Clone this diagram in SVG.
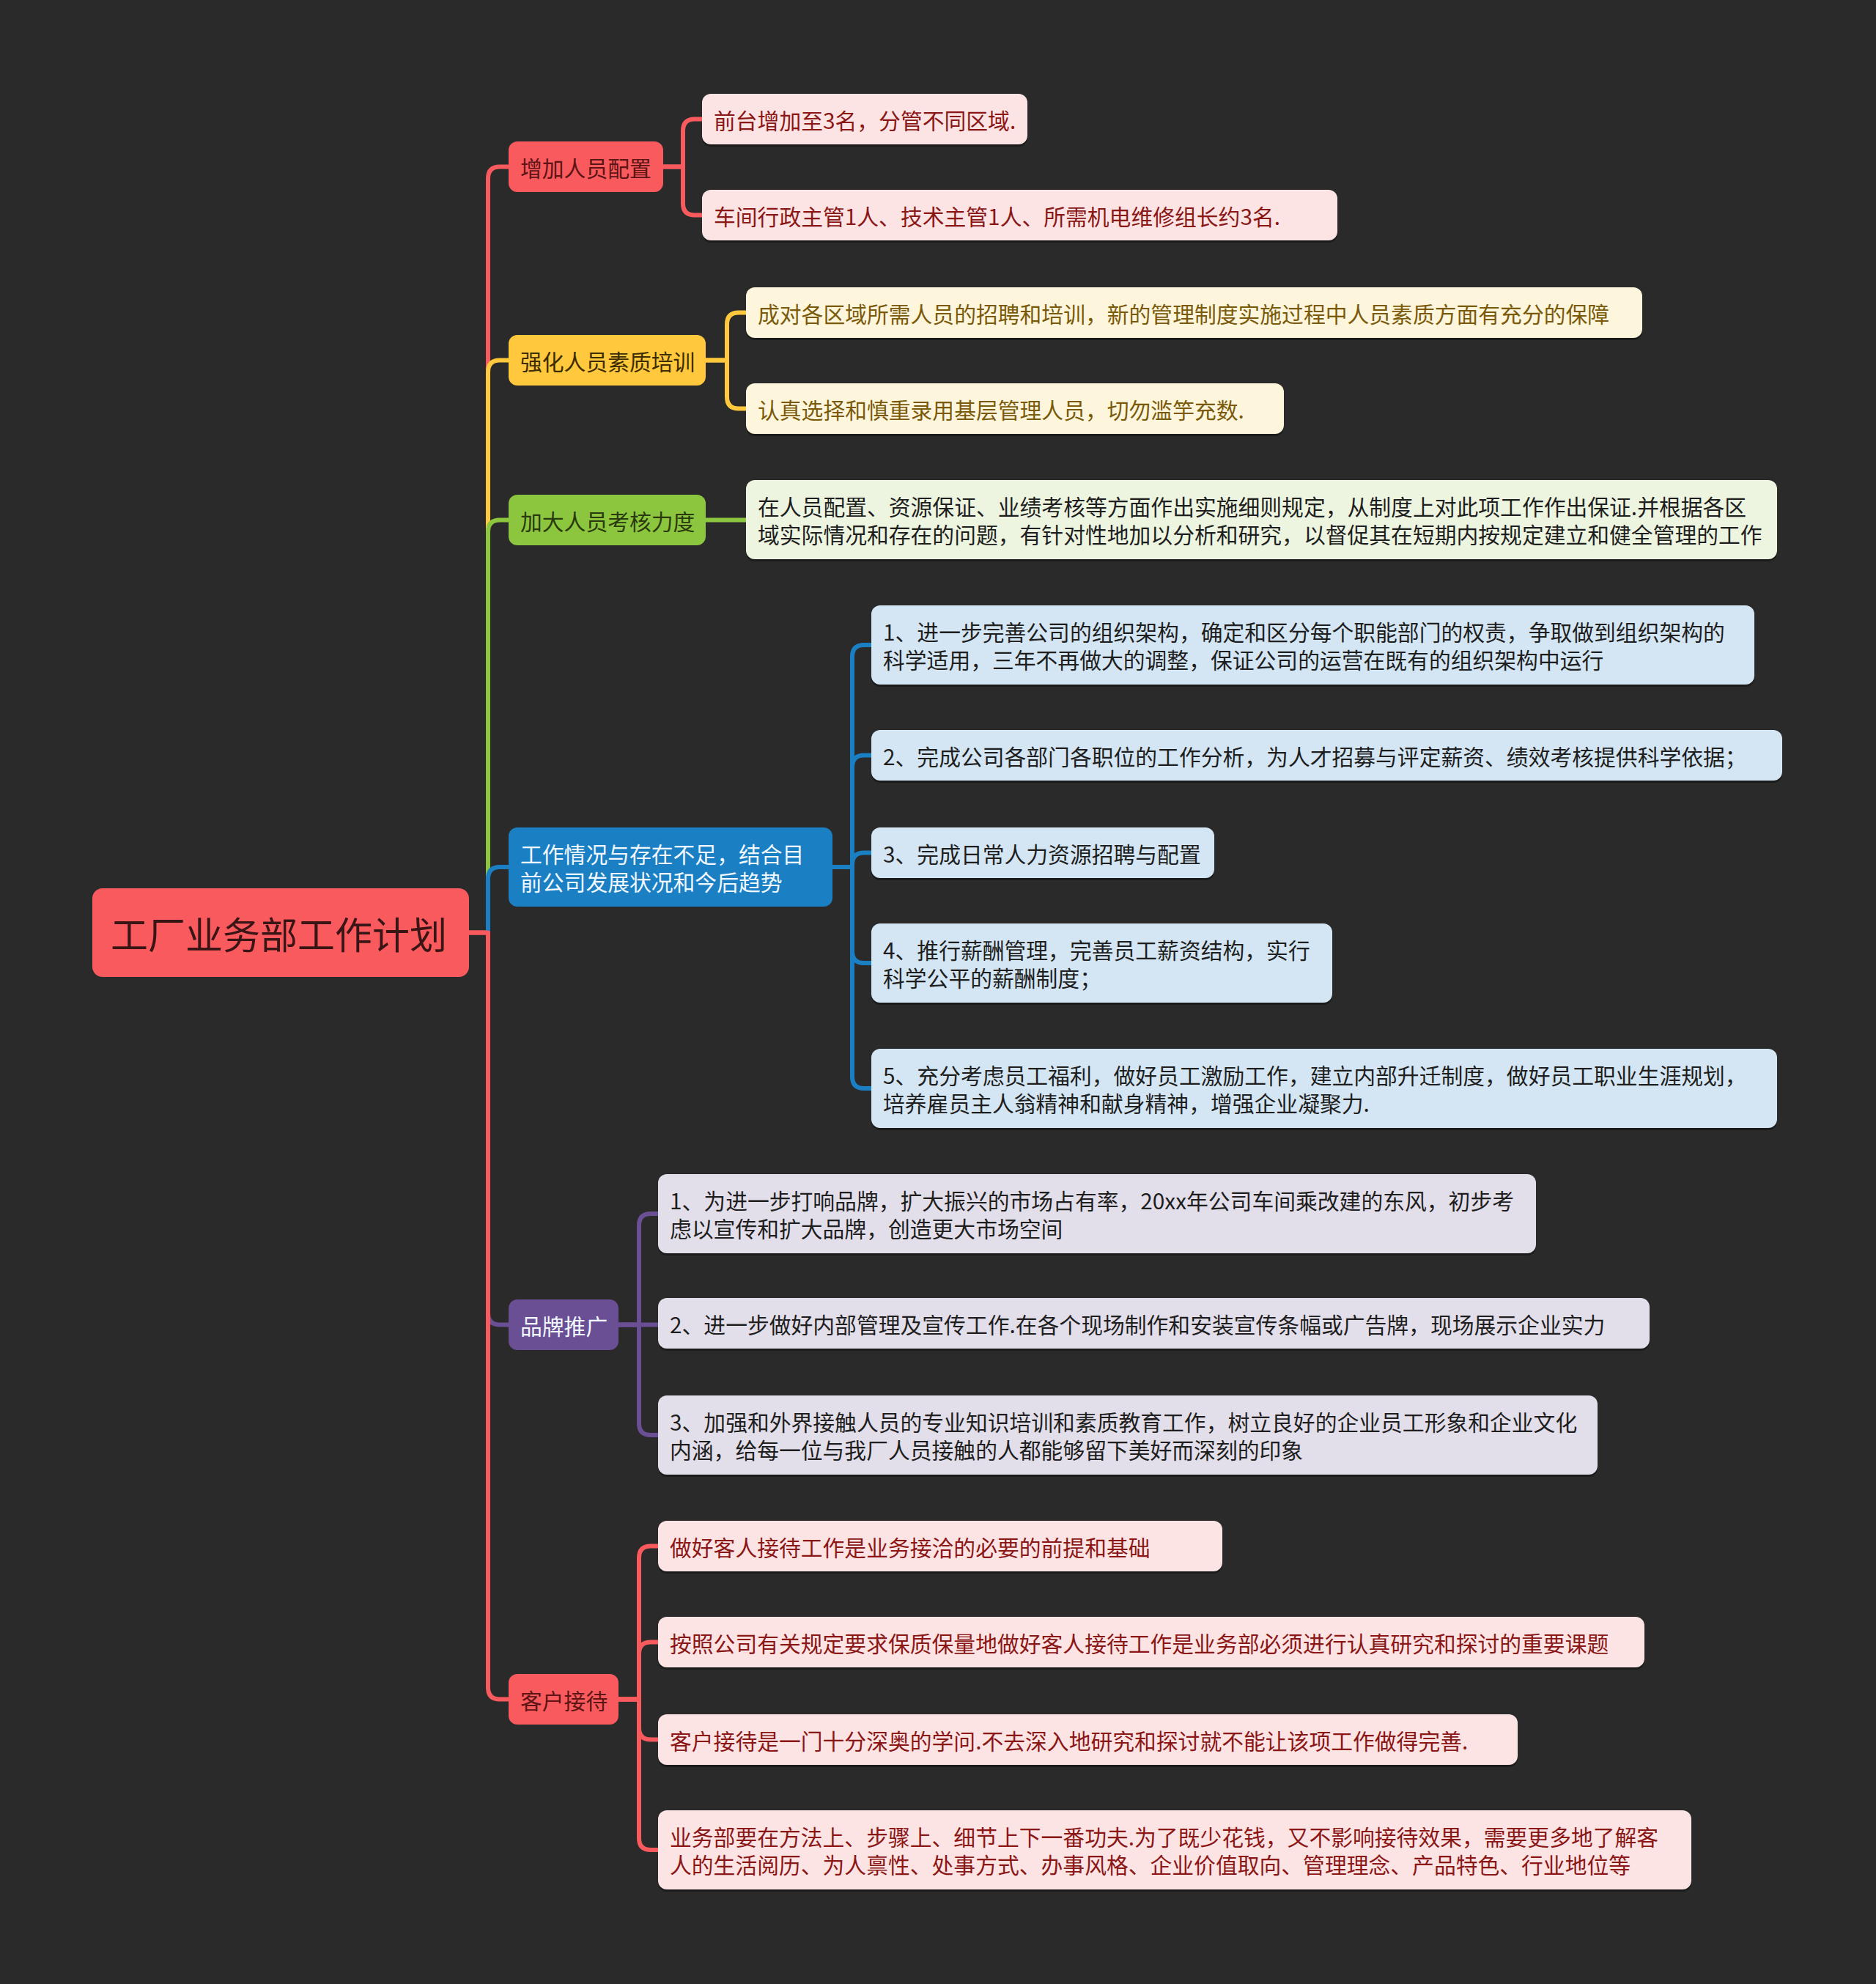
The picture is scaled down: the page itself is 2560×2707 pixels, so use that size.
<svg xmlns="http://www.w3.org/2000/svg" width="2560" height="2707" viewBox="0 0 2560 2707">
<style>
text{font-family:"Noto Sans CJK SC","Noto Sans",sans-serif;font-size:29.8px;dominant-baseline:central}
.c{fill:none;stroke-width:6;stroke-linecap:round;stroke-linejoin:round}
.sh{fill:#000;opacity:.35}
.red{stroke:#F95A5E}.yel{stroke:#FFC83D}.grn{stroke:#8CC63F}.blu{stroke:#1B7FC4}.pur{stroke:#6A4F94}
.rootbox{fill:#F95A5E}
.l1r{fill:#F95A5E}.l1y{fill:#FFC83D}.l1g{fill:#8CC63F}.l1b{fill:#1B7FC4}.l1p{fill:#6A4F94}
.t1r{fill:#5C1414}.t1y{fill:#3D2C00}.t1g{fill:#2A3A0E}.t1w{fill:#F2F8FF}
.l2r{fill:#FCE4E4}.l2y{fill:#FDF6DC}.l2g{fill:#EDF5E0}.l2b{fill:#D4E6F3}.l2p{fill:#E3DFEA}
.t2r{fill:#8B1616}.t2y{fill:#7A5A0A}.t2d{fill:#1E1E1E}
</style>
<rect width="2560" height="2707" fill="#2A2A2A"/>
<g id="connectors">
<path class="c red" d="M640,1272.5 H666 V243.5 Q666,227.5 682,227.5 H694"/>
<path class="c yel" d="M666,1272.5 V507.5 Q666,491.5 682,491.5 H694"/>
<path class="c grn" d="M666,1272.5 V725.5 Q666,709.5 682,709.5 H694"/>
<path class="c blu" d="M666,1272.5 V1199 Q666,1183 682,1183 H694"/>
<path class="c pur" d="M666,1272.5 V1791.5 Q666,1807.5 682,1807.5 H694"/>
<path class="c red" d="M640,1272.5 H666 V2302.5 Q666,2318.5 682,2318.5 H694"/>
<path class="c red" d="M905,227.5 H932 V178.5 Q932,162.5 948,162.5 H958"/>
<path class="c red" d="M905,227.5 H932 V277.5 Q932,293.5 948,293.5 H958"/>
<path class="c yel" d="M963,491.5 H992 V442.5 Q992,426.5 1008,426.5 H1018"/>
<path class="c yel" d="M963,491.5 H992 V541.5 Q992,557.5 1008,557.5 H1018"/>
<path class="c grn" d="M963,709.5 H1018"/>
<path class="c blu" d="M1136,1183 H1163 V896 Q1163,880 1179,880 H1189"/>
<path class="c blu" d="M1136,1183 H1163 V1046.5 Q1163,1030.5 1179,1030.5 H1189"/>
<path class="c blu" d="M1136,1183 H1163 V1179.5 Q1163,1163.5 1179,1163.5 H1189"/>
<path class="c blu" d="M1136,1183 H1163 V1298 Q1163,1314 1179,1314 H1189"/>
<path class="c blu" d="M1136,1183 H1163 V1469 Q1163,1485 1179,1485 H1189"/>
<path class="c pur" d="M844,1807.5 H872 V1672 Q872,1656 888,1656 H898"/>
<path class="c pur" d="M844,1807.5 H898"/>
<path class="c pur" d="M844,1807.5 H872 V1942 Q872,1958 888,1958 H898"/>
<path class="c red" d="M844,2318.5 H872 V2125.5 Q872,2109.5 888,2109.5 H898"/>
<path class="c red" d="M844,2318.5 H872 V2256.5 Q872,2240.5 888,2240.5 H898"/>
<path class="c red" d="M844,2318.5 H872 V2357.5 Q872,2373.5 888,2373.5 H898"/>
<path class="c red" d="M844,2318.5 H872 V2508 Q872,2524 888,2524 H898"/>
</g>
<g id="root">
<rect class="rootbox" x="126" y="1212" width="514" height="121" rx="14"/>
<text x="151" y="1272.5" style="font-size:51px" fill="#3A1515">工厂业务部工作计划</text>
</g>
<g id="n1">
<rect class="l1r" x="694" y="193" width="211" height="69" rx="12"/>
<text class="t1r" x="710" y="227.5">增加人员配置</text>
</g>
<g id="n1a">
<rect class="sh" x="958" y="131" width="444" height="69" rx="12"/>
<rect class="l2r" x="958" y="128" width="444" height="69" rx="12"/>
<text class="t2r" x="974" y="162.5">前台增加至3名，分管不同区域.</text>
</g>
<g id="n1b">
<rect class="sh" x="958" y="262" width="867" height="69" rx="12"/>
<rect class="l2r" x="958" y="259" width="867" height="69" rx="12"/>
<text class="t2r" x="974" y="293.5">车间行政主管1人、技术主管1人、所需机电维修组长约3名.</text>
</g>
<g id="n2">
<rect class="l1y" x="694" y="457" width="269" height="69" rx="12"/>
<text class="t1y" x="710" y="491.5">强化人员素质培训</text>
</g>
<g id="n2a">
<rect class="sh" x="1018" y="395" width="1223" height="69" rx="12"/>
<rect class="l2y" x="1018" y="392" width="1223" height="69" rx="12"/>
<text class="t2y" x="1034" y="426.5">成对各区域所需人员的招聘和培训，新的管理制度实施过程中人员素质方面有充分的保障</text>
</g>
<g id="n2b">
<rect class="sh" x="1018" y="526" width="734" height="69" rx="12"/>
<rect class="l2y" x="1018" y="523" width="734" height="69" rx="12"/>
<text class="t2y" x="1034" y="557.5">认真选择和慎重录用基层管理人员，切勿滥竽充数.</text>
</g>
<g id="n3">
<rect class="l1g" x="694" y="675" width="269" height="69" rx="12"/>
<text class="t1g" x="710" y="709.5">加大人员考核力度</text>
</g>
<g id="n3a">
<rect class="sh" x="1018" y="658" width="1407" height="108" rx="12"/>
<rect class="l2g" x="1018" y="655" width="1407" height="108" rx="12"/>
<text class="t2d" x="1034" y="690"><tspan x="1034" y="690">在人员配置、资源保证、业绩考核等方面作出实施细则规定，从制度上对此项工作作出保证.并根据各区</tspan><tspan x="1034" y="728">域实际情况和存在的问题，有针对性地加以分析和研究，以督促其在短期内按规定建立和健全管理的工作</tspan></text>
</g>
<g id="n4">
<rect class="l1b" x="694" y="1129" width="442" height="108" rx="12"/>
<text class="t1w" x="710" y="1164"><tspan x="710" y="1164">工作情况与存在不足，结合目</tspan><tspan x="710" y="1202">前公司发展状况和今后趋势</tspan></text>
</g>
<g id="n41">
<rect class="sh" x="1189" y="829" width="1205" height="108" rx="12"/>
<rect class="l2b" x="1189" y="826" width="1205" height="108" rx="12"/>
<text class="t2d" x="1205" y="861"><tspan x="1205" y="861">1、进一步完善公司的组织架构，确定和区分每个职能部门的权责，争取做到组织架构的</tspan><tspan x="1205" y="899">科学适用，三年不再做大的调整，保证公司的运营在既有的组织架构中运行</tspan></text>
</g>
<g id="n42">
<rect class="sh" x="1189" y="999" width="1243" height="69" rx="12"/>
<rect class="l2b" x="1189" y="996" width="1243" height="69" rx="12"/>
<text class="t2d" x="1205" y="1030.5">2、完成公司各部门各职位的工作分析，为人才招募与评定薪资、绩效考核提供科学依据；</text>
</g>
<g id="n43">
<rect class="sh" x="1189" y="1132" width="468" height="69" rx="12"/>
<rect class="l2b" x="1189" y="1129" width="468" height="69" rx="12"/>
<text class="t2d" x="1205" y="1163.5">3、完成日常人力资源招聘与配置</text>
</g>
<g id="n44">
<rect class="sh" x="1189" y="1263" width="629" height="108" rx="12"/>
<rect class="l2b" x="1189" y="1260" width="629" height="108" rx="12"/>
<text class="t2d" x="1205" y="1295"><tspan x="1205" y="1295">4、推行薪酬管理，完善员工薪资结构，实行</tspan><tspan x="1205" y="1333">科学公平的薪酬制度；</tspan></text>
</g>
<g id="n45">
<rect class="sh" x="1189" y="1434" width="1236" height="108" rx="12"/>
<rect class="l2b" x="1189" y="1431" width="1236" height="108" rx="12"/>
<text class="t2d" x="1205" y="1466"><tspan x="1205" y="1466">5、充分考虑员工福利，做好员工激励工作，建立内部升迁制度，做好员工职业生涯规划，</tspan><tspan x="1205" y="1504">培养雇员主人翁精神和献身精神，增强企业凝聚力.</tspan></text>
</g>
<g id="n5">
<rect class="l1p" x="694" y="1773" width="150" height="69" rx="12"/>
<text class="t1w" x="710" y="1807.5">品牌推广</text>
</g>
<g id="n51">
<rect class="sh" x="898" y="1605" width="1198" height="108" rx="12"/>
<rect class="l2p" x="898" y="1602" width="1198" height="108" rx="12"/>
<text class="t2d" x="914" y="1637"><tspan x="914" y="1637">1、为进一步打响品牌，扩大振兴的市场占有率，20xx年公司车间乘改建的东风，初步考</tspan><tspan x="914" y="1675">虑以宣传和扩大品牌，创造更大市场空间</tspan></text>
</g>
<g id="n52">
<rect class="sh" x="898" y="1774" width="1353" height="69" rx="12"/>
<rect class="l2p" x="898" y="1771" width="1353" height="69" rx="12"/>
<text class="t2d" x="914" y="1805.5">2、进一步做好内部管理及宣传工作.在各个现场制作和安装宣传条幅或广告牌，现场展示企业实力</text>
</g>
<g id="n53">
<rect class="sh" x="898" y="1907" width="1282" height="108" rx="12"/>
<rect class="l2p" x="898" y="1904" width="1282" height="108" rx="12"/>
<text class="t2d" x="914" y="1939"><tspan x="914" y="1939">3、加强和外界接触人员的专业知识培训和素质教育工作，树立良好的企业员工形象和企业文化</tspan><tspan x="914" y="1977">内涵，给每一位与我厂人员接触的人都能够留下美好而深刻的印象</tspan></text>
</g>
<g id="n6">
<rect class="l1r" x="694" y="2284" width="150" height="69" rx="12"/>
<text class="t1r" x="710" y="2318.5">客户接待</text>
</g>
<g id="n61">
<rect class="sh" x="898" y="2078" width="770" height="69" rx="12"/>
<rect class="l2r" x="898" y="2075" width="770" height="69" rx="12"/>
<text class="t2r" x="914" y="2109.5">做好客人接待工作是业务接洽的必要的前提和基础</text>
</g>
<g id="n62">
<rect class="sh" x="898" y="2209" width="1346" height="69" rx="12"/>
<rect class="l2r" x="898" y="2206" width="1346" height="69" rx="12"/>
<text class="t2r" x="914" y="2240.5">按照公司有关规定要求保质保量地做好客人接待工作是业务部必须进行认真研究和探讨的重要课题</text>
</g>
<g id="n63">
<rect class="sh" x="898" y="2342" width="1173" height="69" rx="12"/>
<rect class="l2r" x="898" y="2339" width="1173" height="69" rx="12"/>
<text class="t2r" x="914" y="2373.5">客户接待是一门十分深奥的学问.不去深入地研究和探讨就不能让该项工作做得完善.</text>
</g>
<g id="n64">
<rect class="sh" x="898" y="2473" width="1410" height="108" rx="12"/>
<rect class="l2r" x="898" y="2470" width="1410" height="108" rx="12"/>
<text class="t2r" x="914" y="2505"><tspan x="914" y="2505">业务部要在方法上、步骤上、细节上下一番功夫.为了既少花钱，又不影响接待效果，需要更多地了解客</tspan><tspan x="914" y="2543">人的生活阅历、为人禀性、处事方式、办事风格、企业价值取向、管理理念、产品特色、行业地位等</tspan></text>
</g>
</svg>
